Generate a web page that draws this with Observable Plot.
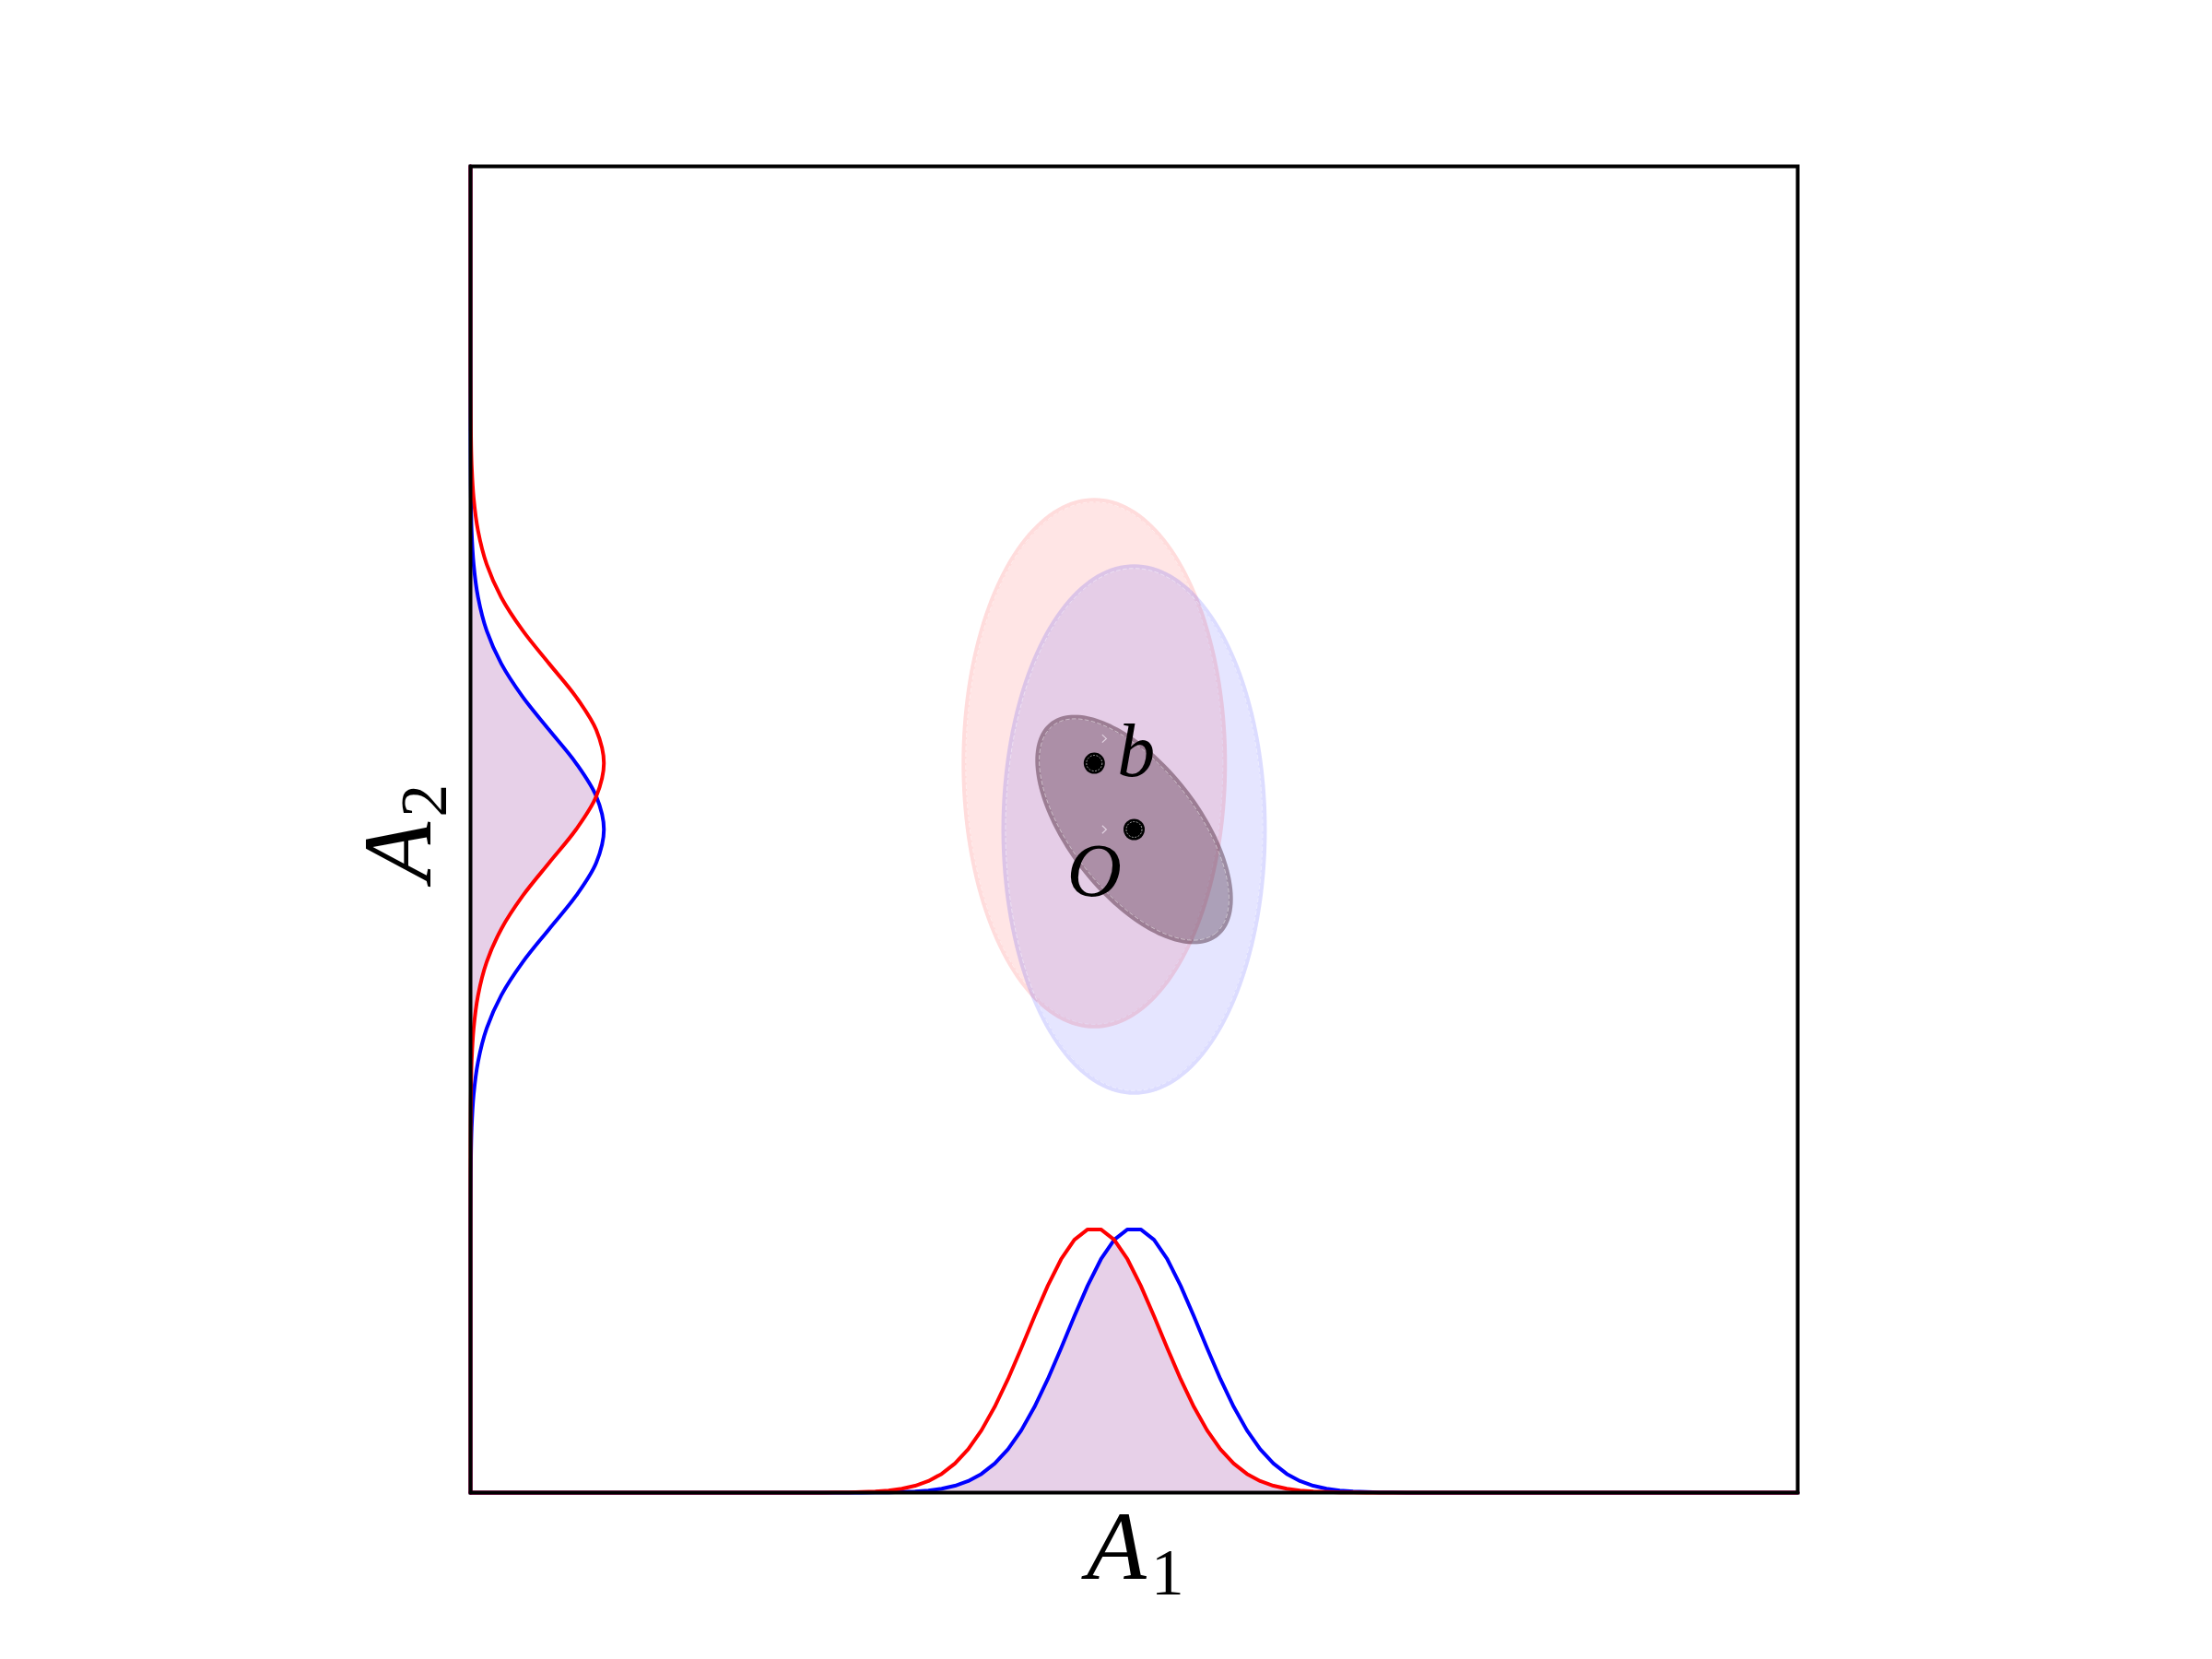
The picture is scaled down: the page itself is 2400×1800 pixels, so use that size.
<!DOCTYPE html>
<html>
<head>
<meta charset="utf-8">
<script src="https://cdn.jsdelivr.net/npm/d3@7"></script>
<script src="https://cdn.jsdelivr.net/npm/@observablehq/plot@0.6"></script>
<style>
  html, body { margin: 0; padding: 0; background: #ffffff; overflow: hidden; }
  #chart svg { display: block; }
</style>
</head>
<body>
<div id="chart"></div>
<script>
// ---------- data ----------
// Marginal of A1 (bottom): positions on A1 and curve heights (A2 units above the bottom edge)
const a1Grid = [-10, -5.1, -4.9, -4.7, -4.5, -4.3, -4.1, -3.9, -3.7, -3.5, -3.3, -3.1, -2.9, -2.7, -2.5, -2.3, -2.1, -1.9, -1.7, -1.5, -1.3, -1.1, -0.9, -0.7, -0.5, -0.3, -0.1, 0.1, 0.3, 0.5, 0.7, 0.9, 1.1, 1.3, 1.5, 1.7, 1.9, 2.1, 2.3, 2.5, 2.7, 2.9, 3.1, 3.3, 3.5, 3.7, 3.9, 4.1, 4.3, 4.5, 10];
const a1Red = [0, 0, 0, 0.001, 0.002, 0.004, 0.009, 0.017, 0.033, 0.060, 0.104, 0.175, 0.283, 0.440, 0.656, 0.940, 1.295, 1.714, 2.178, 2.661, 3.122, 3.520, 3.814, 3.969, 3.969, 3.814, 3.520, 3.122, 2.661, 2.178, 1.714, 1.295, 0.940, 0.656, 0.440, 0.283, 0.175, 0.104, 0.060, 0.033, 0.017, 0.009, 0.004, 0.002, 0.001, 0, 0, 0, 0, 0, 0];
const a1Blue = [0, 0, 0, 0, 0, 0, 0.001, 0.002, 0.004, 0.009, 0.017, 0.033, 0.060, 0.104, 0.175, 0.283, 0.440, 0.656, 0.940, 1.295, 1.714, 2.178, 2.661, 3.122, 3.520, 3.814, 3.969, 3.969, 3.814, 3.520, 3.122, 2.661, 2.178, 1.714, 1.295, 0.940, 0.656, 0.440, 0.283, 0.175, 0.104, 0.060, 0.033, 0.017, 0.009, 0.004, 0.002, 0.001, 0, 0, 0];

// Marginal of A2 (left): positions on A2 and curve heights (A1 units right of the left edge)
const a2Grid = [-10, -6.5, -6.0, -5.5, -5.0, -4.5, -4.0, -3.5, -3.0, -2.5, -2.0, -1.5, -1.0, -0.5, 0, 0.5, 1.0, 1.5, 2.0, 2.5, 3.0, 3.5, 4.0, 4.5, 5.0, 5.5, 6.0, 6.5, 7.0, 7.5, 10];
const a2Red = [0, 0, 0, 0, 0, 0.002, 0.006, 0.017, 0.047, 0.114, 0.243, 0.464, 0.787, 1.186, 1.590, 1.895, 2.010, 1.895, 1.590, 1.186, 0.787, 0.464, 0.243, 0.114, 0.047, 0.017, 0.006, 0.002, 0, 0, 0];
const a2Blue = [0, 0, 0, 0.002, 0.006, 0.017, 0.047, 0.114, 0.243, 0.464, 0.787, 1.186, 1.590, 1.895, 2.010, 1.895, 1.590, 1.186, 0.787, 0.464, 0.243, 0.114, 0.047, 0.017, 0.006, 0.002, 0, 0, 0, 0, 0];

// Ellipses: centre, semi-axes, rotation (deg), colour
const ellipseNames = ["b", "O", "joint"];
const ellipseCx = [-0.6, 0, 0];
const ellipseCy = [1.0, 0, 0];
const ellipseRx = [2.0, 2.0, 2.05];
const ellipseRy = [4.0, 4.0, 1.0];
const ellipseAngle = [0, 0, -52];
const ellipseColor = ["red", "blue", "#280014"];
const ellipseOpacity = [0.1, 0.1, 0.3];

// Points and their labels
const pointNames = ["b", "O"];
const pointX = [-0.6, 0];
const pointY = [1.0, 0];
const labelText = ["b", "O"];
const labelX = [0.03, -0.6];
const labelY = [0.81, -1.0];
const chevronX = [-0.45, -0.45];
const chevronY = [1.37, 0.0];

// Axis labels
const axisLabelBase = ["A", "A"];
const axisLabelSub = ["1", "2"];

// ---------- build tables ----------
const xDomain = [-10, 10], yDomain = [-10, 10];
const base = -10;
const W = 2400, H = 1800, mL = 510, mR = 450, mT = 180, mB = 181;
const pxToData = (xDomain[1] - xDomain[0]) / (W - mL - mR);

const a1Rows = a1Grid.map((x, i) => ({x, red: a1Red[i], blue: a1Blue[i], lo: Math.min(a1Red[i], a1Blue[i])}));
const a2Rows = a2Grid.map((y, i) => ({y, red: a2Red[i], blue: a2Blue[i], lo: Math.min(a2Red[i], a2Blue[i])}));

const ellipses = ellipseNames.map((name, i) => ({
  name, cx: ellipseCx[i], cy: ellipseCy[i], rx: ellipseRx[i], ry: ellipseRy[i],
  angle: ellipseAngle[i], color: ellipseColor[i], opacity: ellipseOpacity[i]
}));
function outline(e, insetPx) {
  const rx = e.rx - insetPx * pxToData, ry = e.ry - insetPx * pxToData;
  const th = e.angle * Math.PI / 180;
  const pts = [];
  for (let deg = 0; deg < 360; deg += 2) {
    const t = deg * Math.PI / 180;
    pts.push({
      x: e.cx + rx * Math.cos(t) * Math.cos(th) - ry * Math.sin(t) * Math.sin(th),
      y: e.cy + rx * Math.cos(t) * Math.sin(th) + ry * Math.sin(t) * Math.cos(th)
    });
  }
  return pts;
}

const points = pointNames.map((n, i) => ({name: n, x: pointX[i], y: pointY[i]}));
const labels = labelText.map((t, i) => ({t, x: labelX[i], y: labelY[i]}));
const chevrons = chevronX.map((x, i) => ({x, y: chevronY[i]}));

// small ">" arrow-head symbol
const chevronSymbol = {
  draw(context, size) {
    const s = Math.sqrt(size / Math.PI);
    context.moveTo(-0.45 * s, -0.85 * s);
    context.lineTo(0.45 * s, 0);
    context.lineTo(-0.45 * s, 0.85 * s);
  }
};

const serif = "'Liberation Serif', 'DejaVu Serif', serif";

const marks = [];
for (const e of ellipses) {
  marks.push(Plot.line(outline(e, 0), {x: "x", y: "y", fill: e.color, fillOpacity: e.opacity, stroke: "none", curve: "linear-closed"}));
  marks.push(Plot.line(outline(e, 2.5), {x: "x", y: "y", stroke: e.color, strokeOpacity: e.opacity * 0.4, strokeWidth: 5, fill: "none", curve: "linear-closed"}));
  marks.push(Plot.line(outline(e, 4.5), {x: "x", y: "y", stroke: "white", strokeOpacity: 0.55, strokeWidth: 0.9, strokeDasharray: "4,3", fill: "none", curve: "linear-closed"}));
}

// marginal fills (overlap of the two densities)
marks.push(Plot.areaY(a1Rows, {x: "x", y1: base, y2: d => base + d.lo, fill: "#e7d0e8", curve: "linear"}));
marks.push(Plot.areaX(a2Rows, {y: "y", x1: base, x2: d => base + d.lo, fill: "#e7d0e8", curve: "catmull-rom"}));
// marginal curves
marks.push(Plot.line(a1Rows, {x: "x", y: d => base + d.blue, stroke: "blue", strokeWidth: 4}));
marks.push(Plot.line(a1Rows, {x: "x", y: d => base + d.red, stroke: "red", strokeWidth: 4}));
marks.push(Plot.line(a2Rows, {y: "y", x: d => base + d.blue, stroke: "blue", strokeWidth: 4, curve: "catmull-rom"}));
marks.push(Plot.line(a2Rows, {y: "y", x: d => base + d.red, stroke: "red", strokeWidth: 4, curve: "catmull-rom"}));

// points
marks.push(Plot.dot(points, {x: "x", y: "y", r: 11.5, fill: "black", stroke: "none"}));
marks.push(Plot.dot(points, {x: "x", y: "y", r: 8.5, fill: "none", stroke: "white", strokeWidth: 0.8, strokeOpacity: 0.75, strokeDasharray: "2,1.5"}));
marks.push(Plot.dot(chevrons, {x: "x", y: "y", r: 5, symbol: chevronSymbol, fill: "none", stroke: "#efe2f0", strokeWidth: 1.2, strokeOpacity: 0.8}));
marks.push(Plot.text(labels, {x: "x", y: "y", text: "t", fontSize: 82, fontStyle: "italic", fontFamily: serif, fill: "black", lineAnchor: "bottom", textAnchor: "middle"}));

// axis labels (A1 below, A2 left)
const axisLabelRows = [
  {t: axisLabelBase[0], x: 0.02, y: base - (1713 - (H - mB)) * pxToData},
  {t: axisLabelBase[1], x: base - (mL - 466) * pxToData, y: -0.05}
];
marks.push(Plot.text(axisLabelRows.slice(0, 1), {
  x: "x", y: "y", text: "t", fontSize: 106, fontStyle: "italic", fontFamily: serif, fill: "black",
  lineAnchor: "bottom", textAnchor: "middle"}));
marks.push(Plot.text(axisLabelRows.slice(1), {
  x: "x", y: "y", text: "t", fontSize: 106, fontStyle: "italic", fontFamily: serif, fill: "black",
  lineAnchor: "bottom", textAnchor: "middle", rotate: -90}));

marks.push(Plot.frame({stroke: "black", strokeWidth: 4}));

const chart = Plot.plot({
  width: W, height: H,
  marginLeft: mL, marginRight: mR, marginTop: mT, marginBottom: mB,
  x: {domain: xDomain, axis: null},
  y: {domain: yDomain, axis: null},
  style: {background: "white", overflow: "visible"},
  marks
});

// subscripts for axis labels: the two "A" texts, in mark order
const ns = "http://www.w3.org/2000/svg";
let aTexts = Array.from(chart.querySelectorAll("text")).filter(t => t.textContent === "A" && t.getAttribute("font-size") === "106");
if (aTexts.length === 0) aTexts = Array.from(chart.querySelectorAll("text")).filter(t => t.textContent === "A");
aTexts.forEach((t, i) => {
  t.textContent = "";
  const a = document.createElementNS(ns, "tspan");
  a.textContent = axisLabelBase[i] || "A";
  a.setAttribute("font-style", "italic");
  const s = document.createElementNS(ns, "tspan");
  s.textContent = axisLabelSub[i] || "";
  s.setAttribute("font-style", "normal");
  s.setAttribute("font-size", "72");
  s.setAttribute("dx", "5");
  s.setAttribute("dy", "17");
  t.appendChild(a);
  t.appendChild(s);
});

document.getElementById("chart").appendChild(chart);
</script>
</body>
</html>
